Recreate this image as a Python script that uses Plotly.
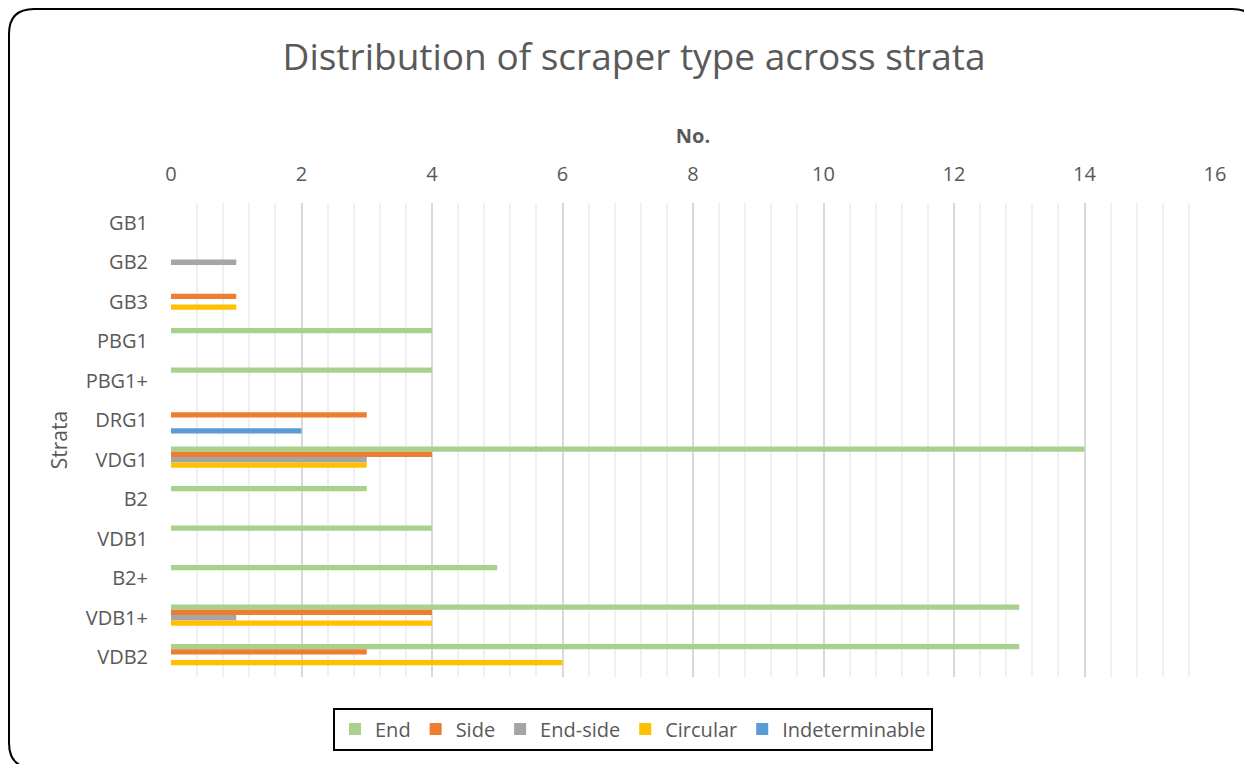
import plotly.graph_objects as go

categories = ["GB1", "GB2", "GB3", "PBG1", "PBG1+", "DRG1", "VDG1", "B2", "VDB1", "B2+", "VDB1+", "VDB2"]
end_vals = [None, None, None, 4, 4, None, 14, 3, 4, 5, 13, 13]
side_vals = [None, None, 1, None, None, 3, 4, None, None, None, 4, 3]
endside_vals = [None, 1, None, None, None, None, 3, None, None, None, 1, None]
circular_vals = [None, None, 1, None, None, None, 3, None, None, None, 4, 6]
indet_vals = [None, None, None, None, None, 2, None, None, None, None, None, None]

series = [
    ("End", end_vals, "#A9D18E"),
    ("Side", side_vals, "#ED7D31"),
    ("End-side", endside_vals, "#A5A5A5"),
    ("Circular", circular_vals, "#FFC000"),
    ("Indeterminable", indet_vals, "#5B9BD5"),
]

FONT = "Open Sans"
TXT = "#595959"

fig = go.Figure()
for name, vals, col in series:
    fig.add_trace(go.Bar(
        y=categories, x=vals, name=name, orientation="h",
        marker=dict(color=col, line=dict(width=0)),
    ))

# page body has an 8px margin; work in figure coordinates
OFF = 8
W, H = 1252 - OFF, 764 - OFF
L, R, T, B = 171 - OFF, 1215 - OFF, 203 - OFF, 677 - OFF

def px(x, y):
    # screen pixel -> paper coords
    x -= OFF
    y -= OFF
    return (x - L) / (R - L), (B - y) / (B - T)

x0, y0, x1, y1, r = 9, 9, 1257, 768, 25
def P(x, y):
    a, b = px(x, y)
    return f"{a:.5f},{b:.5f}"
path = (f"M {P(x0 + r, y0)} L {P(x1 - r, y0)} Q {P(x1, y0)} {P(x1, y0 + r)} "
        f"L {P(x1, y1 - r)} Q {P(x1, y1)} {P(x1 - r, y1)} "
        f"L {P(x0 + r, y1)} Q {P(x0, y1)} {P(x0, y1 - r)} "
        f"L {P(x0, y0 + r)} Q {P(x0, y0)} {P(x0 + r, y0)} Z")

fig.add_shape(type="path", path=path, xref="paper", yref="paper",
              line=dict(color="black", width=2), layer="below")

fig.update_layout(
    width=W, height=H,
    margin=dict(l=L, r=W - R, t=T, b=H - B, autoexpand=False),
    paper_bgcolor="white", plot_bgcolor="white",
    font=dict(family=FONT, color=TXT, size=18),
    title=dict(text="Distribution of scraper type across strata", x=(634 - OFF) / W, xanchor="center",
               y=1 - (57 - OFF) / H, yanchor="middle", font=dict(size=37, color=TXT, family=FONT)),
    barmode="group", bargap=0.33, bargroupgap=0,
    showlegend=True,
    legend=dict(orientation="h", x=px(633, 0)[0], xanchor="center", y=px(0, 729)[1], yanchor="middle",
                bordercolor="black", borderwidth=2, font=dict(size=20, color=TXT),
                traceorder="normal"),
    xaxis=dict(side="top", range=[0, 16], dtick=2, tick0=0, showgrid=True, gridcolor="#D9D9D9", gridwidth=1.5,
               zeroline=False, showline=False, ticks="", ticklabelstandoff=17,
               tickfont=dict(size=20, color=TXT),
               minor=dict(dtick=0.4, showgrid=True, gridcolor="#F0F0F0", gridwidth=1.5),
               title=dict(text="<b>No.</b>", font=dict(size=20, color=TXT), standoff=11)),
    yaxis=dict(categoryorder="array", categoryarray=categories, autorange="reversed",
               showgrid=False, zeroline=False, showline=False, ticks="", ticklabelstandoff=22,
               tickfont=dict(size=20, color=TXT),
               title=dict(text="Strata", font=dict(size=21, color=TXT), standoff=12)),
)

fig.write_html("out.html")
